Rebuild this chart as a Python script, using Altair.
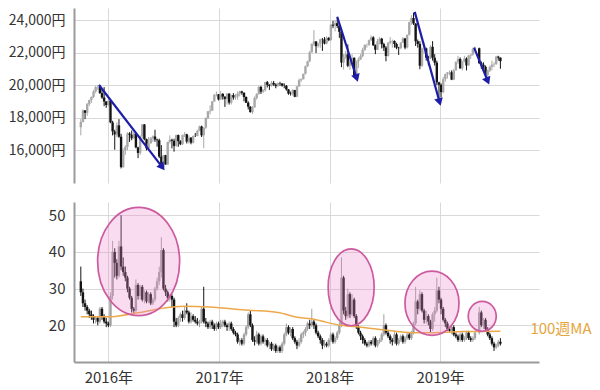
import altair as alt
import pandas as pd

FONT = "Noto Sans CJK JP"
GRID = "#d9d9d9"
AXIS = "#9a9a9a"
TXT = "#333333"
BLUE = "#1d1da8"
ORANGE = "#eda84a"
ORANGE_TXT = "#e6a53c"
PINK = "#ee8ccc"
PINK_EDGE = "#cc5a9e"

FIRST_WEEK = "2015-10-02"

# ---------------- Nikkei 225 weekly (yen) ----------------
NK_OPEN0 = 17400
NK_CLOSE = (
    [17725, 18438, 18291, 18825, 19083, 19265, 19597, 19879, 19883, 19504, 19230, 18986, 18769, 19033]
    + [17697, 17147, 16958, 17518, 16819, 14952, 15967, 16188, 17014, 16938, 16724, 17002, 16164, 15821,
       16848, 17572, 16666, 16106, 16412, 16736, 16834, 16642, 16601, 15599, 14952, 15682, 15106, 16497,
       16627, 16569, 16254, 16919, 16545, 16360, 16925, 16965, 16519, 16754, 16450, 16860, 16856, 17184,
       17446, 16905, 17374, 17967, 18381, 18426, 18996, 19401, 19427, 19114]
    + [19454, 19287, 19137, 19467, 18918, 19378, 19234, 19283, 19469, 19604, 19521, 19262, 18909, 18664,
       18335, 18620, 19197, 19445, 19883, 19590, 19687, 20177, 20013, 19943, 20132, 20033, 19929, 20118,
       20099, 19959, 19952, 19729, 19470, 19452, 19691, 19274, 19909, 20296, 20356, 20690, 21155, 21457,
       22008, 22539, 22681, 22396, 22550, 22819, 22811, 22553, 22902, 22765]
    + [23714, 23653, 23808, 23631, 23274, 21383, 21720, 21892, 21182, 21469, 21676, 20617, 21454, 21567,
       21778, 22162, 22467, 22472, 22758, 22930, 22450, 22171, 22694, 22851, 22516, 22304, 21788, 22597,
       22697, 22712, 22525, 22298, 22270, 22601, 22865, 22307, 23094, 23869, 24120, 23784, 22694, 22532,
       21184, 22243, 22250, 21680, 21646, 22351, 21679, 21374, 20166, 20015]
    + [19561, 20360, 20666, 20774, 20788, 20333, 20901, 21426, 21603, 21026, 21451, 21627, 21206, 21807,
       21871, 22200, 22259, None, 21345, 21250, 21118, 20601, 20885, 21117, 21259, 21276, 21746, 21686, 21467]
)
NK_HIGH = (
    [17900, 18500, 18450, 18900, 19100, 19300, 19700, 19950, 20000, 20012, 19700, 19870, 19000, 19100]
    + [19100, 17800, 17250, 17700, 17900, 17000, 16100, 16300, 17100, 17100, 17200, 17100, 17100, 16200,
       16900, 17600, 17600, 16700, 16800, 16800, 16900, 17250, 16700, 16700, 16300, 15700, 15700, 16500,
       16900, 16700, 16700, 16950, 16950, 16600, 16950, 17100, 17000, 16900, 16800, 16900, 17050, 17250,
       17500, 17500, 17400, 18000, 18400, 18750, 19000, 19450, 19600, 19450]
    + [19615, 19500, 19300, 19500, 19500, 19400, 19500, 19450, 19600, 19650, 19650, 19550, 19300, 19000,
       18700, 18700, 19300, 19500, 19950, 19950, 19750, 20200, 20250, 20050, 20250, 20250, 20100, 20150,
       20200, 20100, 20100, 20000, 19750, 19600, 19750, 19700, 19950, 20400, 20400, 20700, 21200, 21500,
       22100, 22550, 23382, 22700, 22600, 22850, 22900, 22950, 23000, 22950]
    + [23750, 23950, 24000, 24124, 23700, 23300, 21900, 22100, 22500, 21900, 21900, 21700, 21500, 21700,
       21900, 22300, 22500, 22550, 22800, 23050, 23000, 22500, 22850, 22950, 22900, 22600, 22400, 22650,
       22950, 22800, 22750, 22600, 22350, 22650, 22950, 22900, 23100, 23900, 24300, 24448, 23800, 22800,
       22700, 22300, 22600, 22300, 21800, 22450, 22700, 21900, 21500, 20200]
    + [20100, 20500, 20700, 20800, 20900, 20900, 21000, 21450, 21800, 21700, 21500, 21800, 21700, 21850,
       21900, 22300, 22362, None, 22300, 21450, 21400, 21200, 20950, 21200, 21500, 21400, 21800, 21800, 21700]
)
NK_LOW = (
    [16900, 17700, 17900, 18100, 18700, 18900, 19200, 19500, 19700, 19450, 19150, 18700, 18600, 18700]
    + [17650, 16900, 16017, 16800, 16750, 14866, 14900, 15700, 16000, 16500, 16600, 16700, 16100, 15500,
       15700, 16700, 16600, 15975, 16100, 16400, 16500, 16500, 16200, 15500, 14864, 14900, 15100, 15100,
       16400, 16100, 15900, 16200, 16200, 16300, 16300, 16800, 16400, 16400, 16350, 16400, 16800, 16850,
       17150, 16800, 16111, 17300, 17900, 18200, 18400, 18950, 19300, 19050]
    + [19100, 19100, 18650, 18800, 18800, 18800, 19100, 19100, 19100, 19300, 19400, 19000, 18900, 18500,
       18300, 18224, 18600, 19100, 19400, 19450, 19500, 19600, 19850, 19700, 19900, 19950, 19800, 19900,
       19950, 19900, 19800, 19650, 19400, 19350, 19350, 19250, 19250, 19900, 20200, 20350, 20650, 21100,
       21400, 22000, 22400, 21972, 22300, 22300, 22100, 22500, 22500, 22700]
    + [22700, 23500, 23300, 23500, 22900, 21100, 20950, 21600, 21100, 20937, 21300, 20600, 20347, 21050,
       21550, 21700, 22100, 22300, 22400, 22700, 22400, 21900, 22150, 22500, 22250, 22100, 21460, 21750,
       22500, 22300, 22300, 22200, 21851, 22200, 22600, 22200, 22250, 23050, 23700, 23700, 22400, 22300,
       20971, 21100, 21900, 21500, 21200, 21600, 21500, 21200, 20000, 18948]
    + [19241, 19500, 20200, 20400, 20600, 20300, 20300, 20900, 21300, 21000, 20900, 21400, 20900, 21200,
       21600, 21800, 22000, None, 21300, 21000, 21000, 20500, 20289, 20800, 20900, 21100, 21250, 21500, 21000]
)

# ---------------- Nikkei VI weekly ----------------
VI_OPEN0 = 32
VI_CLOSE = (
    [29, 26, 25, 24, 23, 22.5, 21.5, 22, 21, 24.5, 22.5, 21, 20.5, 20]
    + [28, 40, 37, 33.5, 41.5, 36, 34.5, 33, 30, 27.5, 24.5, 24, 31, 28, 30.5, 27, 29, 26.5, 28.5, 26,
       27, 30, 32, 34.5, 40.5, 30, 29, 27.5, 28, 27, 21, 20, 22, 23, 22, 24, 23.5, 21, 22.5, 21.5, 21,
       20.5, 21, 24.5, 21, 20.5, 19.5, 21, 20, 19, 20.5, 19.5]
    + [20.5, 21, 20, 19.5, 20.5, 19, 18, 17.5, 15.5, 16, 15, 17.5, 19.5, 23, 20, 16, 15.5, 17.5, 15, 17,
       15.5, 16, 14.5, 15, 13.5, 14.5, 13, 14, 13, 15, 17.5, 19.5, 18, 19, 16.5, 15.5, 14.5, 15.5, 17.5,
       18, 19, 20.5, 20, 21, 20, 18, 17, 16, 14.5, 15, 14.5, 16]
    + [17.5, 15.5, 16.5, 18, 20, 33, 24, 22.5, 28.5, 23, 27, 22.5, 19.5, 18, 17, 16, 15, 14.5, 15.5, 15,
       16.5, 14.5, 15.5, 16, 17.5, 20, 18, 17, 16, 15.5, 17.5, 15, 16, 17, 15.5, 16.5, 17.5, 16.5, 18,
       20.5, 26.5, 24.5, 28.5, 24, 21.5, 22.5, 21, 19, 23, 24, 29.5, 27]
    + [24.5, 21.5, 20.5, 19, 18.5, 19.5, 17.5, 17, 16, 17.5, 16, 16.5, 18, 16.5, 16, 16.5, 18, None,
       23.5, 20, 21.5, 19, 17.5, 16.5, 15, 14, 14.5, 15.5, 15]
)
VI_HIGH = (
    [36, 30, 27, 25.5, 24.5, 24, 23, 22.5, 22.5, 25, 25, 23, 22, 21]
    + [29, 43, 41, 38, 43, 50, 38.5, 36, 33.5, 30.5, 28, 25, 32.5, 31.5, 31, 31, 29.5, 29.5, 29, 29,
       27.5, 30.5, 33, 36, 44, 41, 31, 29.5, 28.5, 28.5, 27.5, 22, 22.5, 23.5, 24, 25, 26, 24, 23.5, 23,
       22.5, 22, 21.5, 25, 30.5, 22, 21, 21.5, 21.5, 20.5, 21, 21]
    + [21.5, 21.5, 21.5, 20.5, 21, 21, 19.5, 18.5, 18, 16.5, 16.5, 18, 20, 23.5, 24, 20.5, 17, 18.5, 18,
       17.5, 17.5, 16.5, 16.5, 15.5, 15.5, 15, 15, 14.5, 14.5, 15.5, 18, 20.5, 20, 19.5, 19.5, 17, 16,
       16.5, 18, 18.5, 19.5, 21, 21.5, 24.5, 21.5, 20.5, 18.5, 17.5, 16.5, 16, 15.5, 16.5]
    + [18, 18, 17, 18.5, 21, 38.5, 33.5, 25, 30, 29, 28.5, 27.5, 23, 20, 18.5, 17.5, 16.5, 15.5, 16, 16,
       17, 17, 16, 16.5, 18, 23, 20.5, 18.5, 17.5, 16.5, 18.5, 18, 16.5, 17.5, 17.5, 17, 18, 18, 18.5,
       21, 30.5, 27, 29.5, 29, 24.5, 24, 23, 21.5, 23.5, 25, 33, 30.5]
    + [27.5, 25, 22, 21, 19.5, 20, 20, 18, 17.5, 18, 18, 17, 18.5, 18.5, 17, 17, 18.5, None,
       25, 24, 22, 22, 19.5, 18, 17, 15.5, 15, 16, 16.5]
)
VI_LOW = (
    [28, 25, 24, 23, 22, 21.5, 20.5, 20.5, 20, 20.5, 21.5, 20.5, 19.5, 19.5]
    + [19.5, 27, 33, 32.5, 33, 35, 33.5, 32, 29, 27, 23.5, 23, 23.5, 27, 27, 26.5, 26, 26, 26, 25.5,
       25.5, 26.5, 29.5, 31, 33, 29.5, 28, 26.5, 26.5, 25, 19.5, 19.5, 19.5, 21, 21, 21.5, 23, 20.5, 20.5,
       21, 20.5, 20, 19.5, 20.5, 20.5, 19.5, 19, 19, 19, 18.5, 18.5, 19]
    + [19, 19.5, 19.5, 18.5, 18.5, 18.5, 17.5, 17, 15, 14.5, 14.5, 14.5, 17, 19, 19.5, 15.5, 14.5, 15,
       14.5, 14.5, 15, 14.5, 14, 13.5, 13, 13, 12.5, 12.5, 12.5, 12.5, 14.5, 17, 17.5, 17, 16, 15, 13.5,
       14, 15, 16.5, 17, 18.5, 19, 19.5, 19, 17.5, 16.5, 15, 13.5, 14, 14, 14]
    + [15.5, 15, 15, 16, 17.5, 19.5, 23, 21.5, 22, 22, 22.5, 22, 19, 17.5, 16, 15, 14.5, 14, 14, 14.5,
       14.5, 14, 14, 15, 15.5, 17, 17.5, 16.5, 15, 14.5, 15, 14.5, 14.5, 15.5, 15, 15, 16, 16, 16, 17.5,
       20, 23, 24, 23.5, 20.5, 20.5, 20, 18, 18.5, 21, 23.5, 26]
    + [23, 21, 19.5, 18.5, 18, 17.5, 17, 16.5, 15.5, 15.5, 15.5, 15.5, 16, 16, 15.5, 15.5, 16, None,
       17.5, 19.5, 19, 18.5, 17, 16, 14.5, 13, 13.5, 14, 14.5]
)

# 100-week moving average of VI
MA_DATES = ["2015-10-02", "2016-01-01", "2016-04-07", "2016-07-22", "2016-09-09", "2016-11-29",
            "2017-04-08", "2017-07-14", "2017-09-16", "2017-11-14", "2017-12-22", "2018-02-08",
            "2018-04-14", "2018-08-05", "2018-10-09", "2018-12-13", "2019-03-19", "2019-07-19"]
MA_VALUES = [22.3, 22.3, 23.4, 24.9, 25.2, 25.0, 24.1, 23.5, 22.2, 21.6, 20.8, 20.0,
             19.5, 18.4, 18.0, 18.0, 18.3, 18.4]
MA_LABEL = "100週MA"

# highlighted VI spikes (ellipse centres)
ELL_DATES = ["2016-04-10", "2018-03-13", "2018-12-05", "2019-05-20"]
ELL_VALUES = [37.4, 30.35, 26.0, 22.45]
ELL_WIDTH_PX = [82, 46, 54, 28]
ELL_RATIO = [1.32, 1.67, 1.19, 1.07]

# falling-market arrows on the Nikkei panel
ARW_START = ["2015-12-01", "2018-01-26", "2018-10-09", "2019-04-23"]
ARW_START_V = [20000, 24200, 24500, 22300]
ARW_END = ["2016-06-27", "2018-03-31", "2018-12-30", "2019-06-07"]
ARW_END_V = [14950, 20430, 18950, 20250]
ARW_ANGLE = [52, 72, 74, 67]

NK_TICKS = [16000, 18000, 20000, 22000, 24000]
VI_TICKS = [20, 30, 40, 50]
YEARS = [2016, 2017, 2018, 2019]

# ---------------- build tables ----------------
dates = pd.date_range(FIRST_WEEK, periods=len(NK_CLOSE), freq="7D").strftime("%Y-%m-%d")


def candles(open0, close, high, low, up_col, dn_col):
    rows = []
    prev = open0
    for d, c, h, l in zip(dates, close, high, low):
        if c is None:
            continue
        rows.append(dict(date=d, open=prev, close=c, high=h, low=l,
                         col=(dn_col if c < prev else up_col)))
        prev = c
    return pd.DataFrame(rows)


nk = candles(NK_OPEN0, NK_CLOSE, NK_HIGH, NK_LOW, "#a8a8a8", "#141414")
vi = candles(VI_OPEN0, VI_CLOSE, VI_HIGH, VI_LOW, "#a0a0a0", "#141414")
ma = pd.DataFrame({"date": MA_DATES, "v": MA_VALUES})
ma_lab = ma.tail(1).assign(label=MA_LABEL)
ell = pd.DataFrame({"date": ELL_DATES, "v": ELL_VALUES})
arr = pd.DataFrame({"d1": ARW_START, "v1": ARW_START_V, "d2": ARW_END, "v2": ARW_END_V, "ang": ARW_ANGLE})

X_DOMAIN = [alt.DateTime(year=2015, month=9, date=26), alt.DateTime(year=2019, month=11, date=7)]
YEAR_TICKS = [alt.DateTime(year=y, month=1, date=1) for y in YEARS]
xs = alt.Scale(domain=X_DOMAIN)


def ellipse_path(k):
    c = 0.5523
    ck = c * k
    return (f"M 1 0 C 1 {ck:.4f} {c} {k} 0 {k} C {-c} {k} -1 {ck:.4f} -1 0 "
            f"C -1 {-ck:.4f} {-c} {-k} 0 {-k} C {c} {-k} 1 {-ck:.4f} 1 0 Z")


# ---------------- top panel ----------------
top_x_axis = alt.Axis(values=YEAR_TICKS, labels=False, ticks=False, domain=False, grid=True,
                      gridColor=GRID, title=None, minExtent=0, maxExtent=0)
top_y_axis = alt.Axis(values=NK_TICKS, labelExpr="format(datum.value, ',') + '円'", title=None,
                      grid=True, gridColor=GRID, domainColor=AXIS, domainWidth=2, ticks=False,
                      labelPadding=9, labelFontSize=14, labelColor=TXT)
top_ys = alt.Scale(domain=[13970, 24740], nice=False, zero=False)

nk_wick = alt.Chart(nk).mark_rule(strokeWidth=1).encode(
    x=alt.X("date:T", scale=xs, axis=top_x_axis),
    y=alt.Y("low:Q", scale=top_ys, axis=top_y_axis),
    y2="high:Q",
    color=alt.Color("col:N", scale=None),
)
nk_body = alt.Chart(nk).mark_bar(size=2.4).encode(
    x="date:T", y="open:Q", y2="close:Q", color=alt.Color("col:N", scale=None)
)
arr_line = alt.Chart(arr).mark_rule(color=BLUE, strokeWidth=2.2).encode(
    x="d1:T", x2="d2:T", y="v1:Q", y2="v2:Q"
)
arr_head = alt.Chart(arr).mark_point(shape="triangle-right", filled=True, size=80, color=BLUE,
                                     opacity=1).encode(
    x="d2:T", y="v2:Q", angle=alt.Angle("ang:Q", scale=None)
)
top = alt.layer(nk_wick, nk_body, arr_line, arr_head).properties(width=465, height=175)

# ---------------- bottom panel ----------------
bot_x_axis = alt.Axis(values=YEAR_TICKS, labelExpr="year(datum.value) + '年'", title=None, grid=True,
                      gridColor=GRID, domainColor=AXIS, domainWidth=2, ticks=False, labelPadding=8,
                      labelFontSize=15, labelColor=TXT)
bot_y_axis = alt.Axis(values=VI_TICKS, title=None, grid=True, gridColor=GRID, domainColor=AXIS,
                      domainWidth=2, ticks=False, labelPadding=9, labelFontSize=15, labelColor=TXT)
bot_ys = alt.Scale(domain=[10, 53.6], nice=False, zero=False)

vi_wick = alt.Chart(vi).mark_rule(strokeWidth=1).encode(
    x=alt.X("date:T", scale=xs, axis=bot_x_axis),
    y=alt.Y("low:Q", scale=bot_ys, axis=bot_y_axis),
    y2="high:Q",
    color=alt.Color("col:N", scale=None),
)
vi_body = alt.Chart(vi).mark_bar(size=2.4).encode(
    x="date:T", y="open:Q", y2="close:Q", color=alt.Color("col:N", scale=None)
)
ma_line = alt.Chart(ma).mark_line(color=ORANGE, strokeWidth=1.5, interpolate="monotone").encode(
    x="date:T", y="v:Q"
)
ma_text = alt.Chart(ma_lab).mark_text(align="left", baseline="middle", dx=30, dy=-2, fontSize=15,
                                      color=ORANGE_TXT, font=FONT).encode(
    x="date:T", y="v:Q", text="label:N"
)
ellipses = []
for i in range(len(ELL_DATES)):
    ellipses.append(
        alt.Chart(ell.iloc[[i]]).mark_point(
            shape=ellipse_path(ELL_RATIO[i]), size=ELL_WIDTH_PX[i] ** 2, filled=True,
            fill=PINK, fillOpacity=0.3, stroke=PINK_EDGE, strokeWidth=1.7, strokeOpacity=1, opacity=1,
        ).encode(x="date:T", y="v:Q")
    )

bottom = alt.layer(vi_wick, vi_body, ma_line, ma_text, *ellipses).properties(width=465, height=160)

chart = (
    alt.vconcat(top, bottom, spacing=19)
    .properties(padding={"left": 0, "top": 0, "right": 0, "bottom": 0})
    .configure(font=FONT)
    .configure_view(stroke=None)
    .configure_axis(labelFont=FONT)
)

chart.save("out.html", embed_options={"renderer": "svg", "actions": False})
